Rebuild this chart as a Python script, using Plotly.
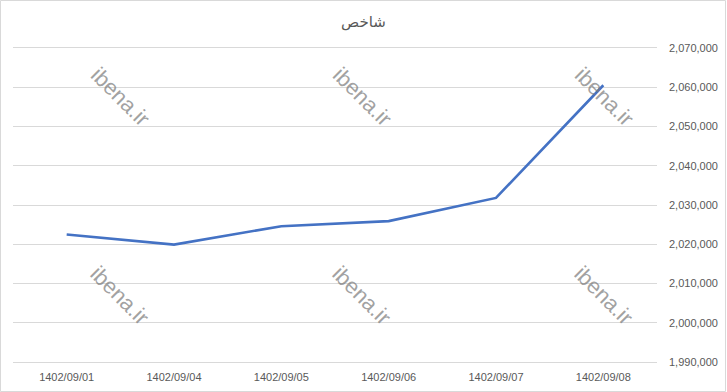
import plotly.graph_objects as go

dates = ["1402/09/01", "1402/09/04", "1402/09/05", "1402/09/06", "1402/09/07", "1402/09/08"]
index_values = [2022500, 2019900, 2024600, 2025900, 2031800, 2060500]
title_text = "شاخص"
watermark = "ibena.ir"

fig = go.Figure()
fig.add_trace(go.Scatter(
    x=dates, y=index_values, mode="lines",
    line=dict(color="#4472C4", width=2.6),
    hoverinfo="skip", showlegend=False,
))

font_family = "Liberation Sans, Arial, sans-serif"
T, B, L, R = 46, 28, 13, 70
PW, PH = 727 - L - R, 392 - T - B
fig.update_layout(
    width=727, height=392,
    margin=dict(l=L, r=R, t=T, b=B, autoexpand=False),
    paper_bgcolor="white", plot_bgcolor="white",
    title=dict(text=title_text, x=0.5, xanchor="center", y=1 - 22/392, yanchor="middle",
               font=dict(family="Noto Sans, DejaVu Sans, sans-serif", size=15, color="#595959")),
    xaxis=dict(type="category", showgrid=False, zeroline=False, showline=False, automargin=False,
               ticks="", ticklabelstandoff=5,
               tickfont=dict(family=font_family, size=11, color="#595959"),
               range=[-0.5, 5.5]),
    yaxis=dict(side="right", range=[1989500, 2070500], dtick=10000, tick0=1990000, tickformat=",",
               showgrid=True, gridcolor="#D9D9D9", gridwidth=1, zeroline=False, showline=False,
               automargin=False, ticks="", ticklabelstandoff=11,
               tickfont=dict(family=font_family, size=11, color="#595959")),
    shapes=[dict(type="rect", xref="paper", yref="paper", x0=-(L - 0.5) / PW, x1=(727 - L - 1.5) / PW,
                 y0=-(B - 0.5) / PH, y1=1 + (T - 0.5) / PH,
                 line=dict(color="#D9D9D9", width=1), fillcolor="rgba(0,0,0,0)", layer="below")],
)

# watermark positions (paper pixel centers)
wm_x = [120, 362, 604]
wm_y = [97, 295]
for px in wm_x:
    for py in wm_y:
        fig.add_annotation(
            x=(px - L) / PW, y=(392 - B - py) / PH, xref="paper", yref="paper",
            text=watermark, showarrow=False, textangle=45,
            font=dict(family=font_family, size=22, color="rgba(120,120,120,0.7)"),
            xanchor="center", yanchor="middle",
        )

fig.write_html("out.html")
